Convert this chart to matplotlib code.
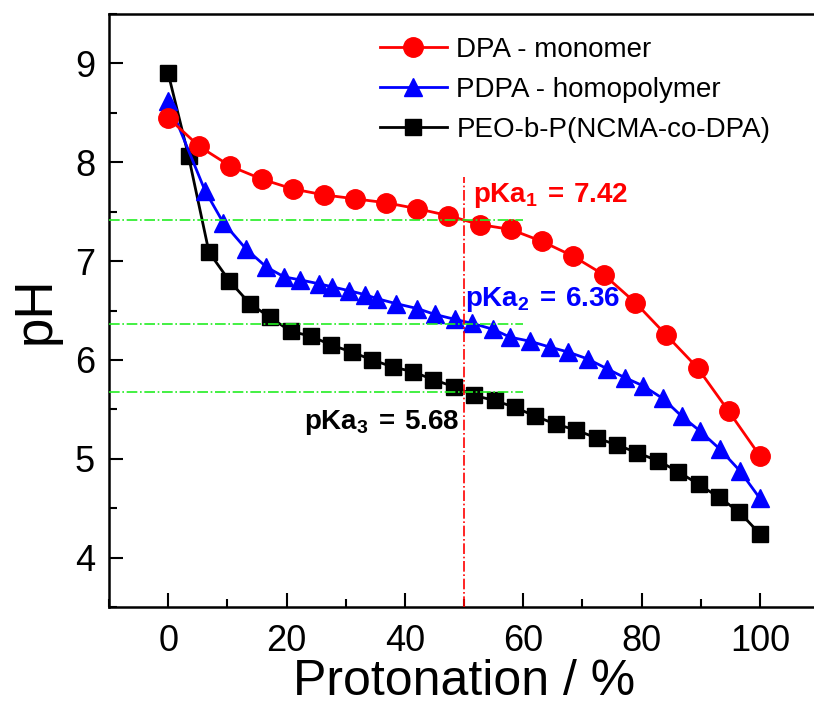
import matplotlib
matplotlib.use("Agg")
import matplotlib.pyplot as plt
from matplotlib.ticker import MultipleLocator

plt.rcParams['font.family'] = ['Liberation Sans', 'DejaVu Sans']
plt.rcParams['mathtext.fontset'] = 'custom'
plt.rcParams['mathtext.rm'] = 'Liberation Sans'
plt.rcParams['mathtext.bf'] = 'Liberation Sans:bold'

# DPA - monomer
x_dpa = [0.0, 5.26, 10.53, 15.79, 21.05, 26.32, 31.58, 36.84, 42.11, 47.37,
         52.63, 57.89, 63.16, 68.42, 73.68, 78.95, 84.21, 89.47, 94.74, 100.0]
y_dpa = [8.45, 8.16, 7.96, 7.83, 7.73, 7.67, 7.63, 7.59, 7.53, 7.46,
         7.37, 7.32, 7.20, 7.05, 6.86, 6.58, 6.25, 5.92, 5.48, 5.03]

# PDPA - homopolymer
x_pdpa = [0.0, 6.25, 9.3, 13.2, 16.6, 19.6, 22.3, 25.5, 27.7, 30.6, 33.3, 35.3,
          38.5, 42.1, 45.1, 48.5, 51.4, 54.9, 57.8, 61.1, 64.5, 67.6, 70.9,
          74.2, 77.2, 80.2, 83.6, 86.8, 89.9, 93.2, 96.6, 100.0]
y_pdpa = [8.62, 7.71, 7.39, 7.12, 6.94, 6.84, 6.81, 6.77, 6.74, 6.70, 6.66, 6.62,
          6.57, 6.52, 6.46, 6.41, 6.37, 6.31, 6.23, 6.19, 6.13, 6.08, 6.01,
          5.91, 5.82, 5.74, 5.61, 5.43, 5.28, 5.10, 4.88, 4.60]

# PEO-b-P(NCMA-co-DPA)
x_peo = [0.0, 3.45, 6.90, 10.34, 13.79, 17.24, 20.69, 24.14, 27.59, 31.03,
         34.48, 37.93, 41.38, 44.83, 48.28, 51.72, 55.17, 58.62, 62.07, 65.52,
         68.97, 72.41, 75.86, 79.31, 82.76, 86.21, 89.66, 93.10, 96.55, 100.0]
y_peo = [8.90, 8.06, 7.09, 6.80, 6.57, 6.43, 6.29, 6.24, 6.15, 6.08,
         6.00, 5.93, 5.88, 5.80, 5.73, 5.64, 5.59, 5.52, 5.43, 5.35,
         5.29, 5.21, 5.14, 5.06, 4.98, 4.87, 4.74, 4.61, 4.46, 4.24]

pka_values = [7.42, 6.36, 5.68]
pka_labels = [r'$\mathbf{pKa_1\,=\,7.42}$', r'$\mathbf{pKa_2\,=\,6.36}$',
              r'$\mathbf{pKa_3\,=\,5.68}$']
pka_colors = ['#ff0000', '#0000ff', '#000000']
pka_text_pos = [(51.5, 7.60), (50.1, 6.55), (23.0, 5.30)]

W, H = 814, 707
fig = plt.figure(figsize=(W / 100, H / 100), dpi=100)
ax = fig.add_axes([109 / W, 1 - 607 / H, 710 / W, 593 / H])

ax.plot(x_dpa, y_dpa, '-o', color='#ff0000', lw=2.0, ms=14, mec='#ff0000',
        label='DPA - monomer', zorder=5)
ax.plot(x_pdpa, y_pdpa, '-^', color='#0000ff', lw=2.0, ms=13, mec='#0000ff',
        label='PDPA - homopolymer', zorder=4)
ax.plot(x_peo, y_peo, '-s', color='#000000', lw=2.0, ms=11,
        label='PEO-b-P(NCMA-co-DPA)', zorder=3)

for v in pka_values:
    ax.plot([-10, 60], [v, v], color='#22ee22', lw=1.2, ls='-.', zorder=6)
ax.plot([50, 50], [3.5, 7.85], color='#ff0000', lw=1.2, ls='-.', zorder=6)

for lab, c, (tx, ty) in zip(pka_labels, pka_colors, pka_text_pos):
    ax.text(tx, ty, lab, color=c, fontsize=20, ha='left', va='baseline', zorder=7)

ax.set_xlim(-10, 110)
ax.set_ylim(3.5, 9.5)
ax.xaxis.set_major_locator(MultipleLocator(20))
ax.xaxis.set_minor_locator(MultipleLocator(10))
ax.yaxis.set_major_locator(MultipleLocator(1))
ax.yaxis.set_minor_locator(MultipleLocator(0.5))
ax.tick_params(which='both', direction='in', width=1.5, labelsize=26)
ax.tick_params(which='major', length=10)
ax.tick_params(which='minor', length=6)
ax.tick_params(axis='x', pad=12)
ax.tick_params(axis='y', pad=10)
for s in ax.spines.values():
    s.set_linewidth(1.8)

ax.set_xlabel('Protonation / %', fontsize=36, labelpad=0)
ax.set_ylabel('pH', fontsize=38, labelpad=10)

leg = ax.legend(loc='upper left', bbox_to_anchor=(380 / W, 1 - 37 / H),
                bbox_transform=fig.transFigure, frameon=False, fontsize=20,
                handlelength=2.4, handletextpad=0.35, labelspacing=0.5,
                borderpad=0, borderaxespad=0)

fig.savefig('out.png', dpi=100)
